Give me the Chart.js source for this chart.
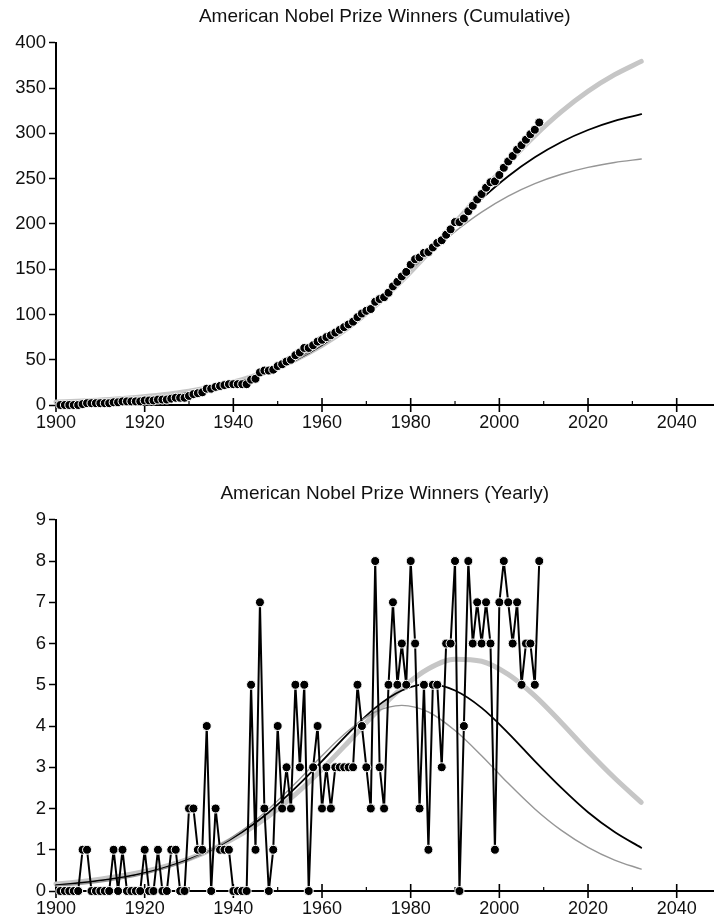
<!DOCTYPE html>
<html>
<head>
<meta charset="utf-8">
<title>American Nobel Prize Winners</title>
<script src="https://cdn.jsdelivr.net/npm/chart.js@4.4.1/dist/chart.umd.min.js"></script>
<style>
  html, body { margin: 0; padding: 0; background: #fff; }
  body { width: 719px; height: 924px; overflow: hidden; position: relative; }
  canvas { position: absolute; left: 0; }
  #cumulative-chart { top: 0; }
  #yearly-chart { top: 462px; }
</style>
</head>
<body>
<canvas id="cumulative-chart" width="719" height="440"></canvas>
<canvas id="yearly-chart" width="719" height="462"></canvas>
<script>
// Observed data, one entry per year
const years = [
  1901, 1902, 1903, 1904, 1905, 1906, 1907, 1908, 1909, 1910,
  1911, 1912, 1913, 1914, 1915, 1916, 1917, 1918, 1919, 1920,
  1921, 1922, 1923, 1924, 1925, 1926, 1927, 1928, 1929, 1930,
  1931, 1932, 1933, 1934, 1935, 1936, 1937, 1938, 1939, 1940,
  1941, 1942, 1943, 1944, 1945, 1946, 1947, 1948, 1949, 1950,
  1951, 1952, 1953, 1954, 1955, 1956, 1957, 1958, 1959, 1960,
  1961, 1962, 1963, 1964, 1965, 1966, 1967, 1968, 1969, 1970,
  1971, 1972, 1973, 1974, 1975, 1976, 1977, 1978, 1979, 1980,
  1981, 1982, 1983, 1984, 1985, 1986, 1987, 1988, 1989, 1990,
  1991, 1992, 1993, 1994, 1995, 1996, 1997, 1998, 1999, 2000,
  2001, 2002, 2003, 2004, 2005, 2006, 2007, 2008, 2009
]

const yearlyWinners = [
  0, 0, 0, 0, 0, 1, 1, 0, 0, 0,
  0, 0, 1, 0, 1, 0, 0, 0, 0, 1,
  0, 0, 1, 0, 0, 1, 1, 0, 0, 2,
  2, 1, 1, 4, 0, 2, 1, 1, 1, 0,
  0, 0, 0, 5, 1, 7, 2, 0, 1, 4,
  2, 3, 2, 5, 3, 5, 0, 3, 4, 2,
  3, 2, 3, 3, 3, 3, 3, 5, 4, 3,
  2, 8, 3, 2, 5, 7, 5, 6, 5, 8,
  6, 2, 5, 1, 5, 5, 3, 6, 6, 8,
  0, 4, 8, 6, 7, 6, 7, 6, 1, 7,
  8, 7, 6, 7, 5, 6, 6, 5, 8
]

const cumulativeWinners = [
  0, 0, 0, 0, 0, 1, 2, 2, 2, 2,
  2, 2, 3, 3, 4, 4, 4, 4, 4, 5,
  5, 5, 6, 6, 6, 7, 8, 8, 8, 10,
  12, 13, 14, 18, 18, 20, 21, 22, 23, 23,
  23, 23, 23, 28, 29, 36, 38, 38, 39, 43,
  45, 48, 50, 55, 58, 63, 63, 66, 70, 72,
  75, 77, 80, 83, 86, 89, 92, 97, 101, 104,
  106, 114, 117, 119, 124, 131, 136, 142, 147, 155,
  161, 163, 168, 169, 174, 179, 182, 188, 194, 202,
  202, 206, 214, 220, 227, 233, 240, 246, 247, 254,
  262, 269, 275, 282, 287, 293, 299, 304, 312
]

// Fitted curves, every six years
const fitYears = [
  1900, 1906, 1912, 1918, 1924, 1930, 1936, 1942, 1948, 1954, 1960, 1966,
  1972, 1978, 1984, 1990, 1996, 2002, 2008, 2014, 2020, 2026, 2032
]

const cumulativeFitHigh = [
  3.2, 4.4, 6.0, 8.3, 11.3, 15.3, 20.8, 28.1, 37.6, 50.1, 65.9, 85.6,
  109.4, 137.1, 168.1, 201.2, 234.9, 267.5, 297.5, 324.0, 346.5, 364.8, 379.5
]
const cumulativeFitMid = [
  2.4, 3.4, 4.8, 6.8, 9.6, 13.5, 18.9, 26.3, 36.3, 49.5, 66.4, 87.3,
  112.2, 140.2, 170.0, 199.8, 227.8, 252.7, 273.6, 290.5, 303.7, 313.7, 321.1
]
const cumulativeFitLow = [
  1.9, 2.7, 4.0, 5.8, 8.4, 12.2, 17.6, 25.2, 35.5, 49.3, 67.0, 88.5,
  113.3, 140.0, 166.7, 191.5, 213.0, 230.7, 244.5, 254.8, 262.4, 267.8, 271.6
]

const yearlyFitHigh = [
  0.17, 0.23, 0.32, 0.43, 0.58, 0.78, 1.05, 1.39, 1.82, 2.34, 2.95, 3.62,
  4.31, 4.92, 5.39, 5.62, 5.57, 5.25, 4.73, 4.08, 3.39, 2.74, 2.15
]
const yearlyFitMid = [
  0.14, 0.20, 0.28, 0.39, 0.55, 0.77, 1.05, 1.43, 1.91, 2.50, 3.15, 3.83,
  4.44, 4.86, 5.02, 4.86, 4.44, 3.83, 3.15, 2.50, 1.91, 1.43, 1.05
]
const yearlyFitLow = [
  0.12, 0.17, 0.25, 0.36, 0.53, 0.75, 1.06, 1.47, 1.99, 2.61, 3.28, 3.89,
  4.34, 4.50, 4.34, 3.89, 3.28, 2.61, 1.99, 1.47, 1.06, 0.75, 0.53
]

// Axis ticks
const yearTicks = [1900, 1910, 1920, 1930, 1940, 1950, 1960, 1970, 1980, 1990, 2000, 2010, 2020, 2030, 2040]
const yearLabels = [1900, 1920, 1940, 1960, 1980, 2000, 2020, 2040]
const cumulativeTicks = [0, 50, 100, 150, 200, 250, 300, 350, 400]
const yearlyTicks = [0, 1, 2, 3, 4, 5, 6, 7, 8, 9]

const FONT = "'Liberation Sans', Arial, sans-serif"
const TEXT_COLOR = '#111'

const FIT_STYLES = {
  high: { color: '#c6c6c6', width: 5 },
  mid: { color: '#000', width: 1.8 },
  low: { color: '#969696', width: 1.4 }
}

function toPoints(xs, ys) {
  return xs.map((x, i) => ({ x: x, y: ys[i] }))
}

function fitDataset(label, ys, style) {
  return {
    label: label,
    data: toPoints(fitYears, ys),
    borderColor: style.color,
    borderWidth: style.width,
    borderCapStyle: 'round',
    pointRadius: 0,
    cubicInterpolationMode: 'monotone',
    fill: false,
    clip: false
  }
}

function winnersDataset(label, ys, showLine) {
  return {
    label: label,
    data: toPoints(years, ys),
    showLine: showLine,
    borderColor: '#000',
    borderWidth: 2,
    borderJoinStyle: 'round',
    tension: 0,
    pointRadius: 4.5,
    pointBackgroundColor: '#000',
    pointBorderColor: '#fff',
    pointBorderWidth: 1,
    clip: false
  }
}

// Year axis ticks cross the axis line: long ones every 20 years, short ones between
const crossTicks = {
  id: 'crossTicks',
  beforeDatasetsDraw(chart) {
    const scale = chart.scales.x
    const ctx = chart.ctx
    ctx.save()
    ctx.strokeStyle = '#000'
    scale.ticks.forEach(tick => {
      const x = scale.getPixelForValue(tick.value)
      const major = yearLabels.includes(tick.value)
      ctx.lineWidth = major ? 1.6 : 1.2
      ctx.beginPath()
      ctx.moveTo(x, scale.top - (major ? 7 : 4))
      ctx.lineTo(x, scale.top + (major ? 7 : 1))
      ctx.stroke()
    })
    ctx.restore()
  }
}

function buildOptions(title, yTicks, titlePadding, xAxisHeight) {
  return {
    responsive: false,
    animation: false,
    events: [],
    layout: { padding: 0 },
    plugins: {
      legend: { display: false },
      tooltip: { enabled: false },
      title: {
        display: true,
        text: title,
        fullSize: false,
        color: TEXT_COLOR,
        font: { family: FONT, size: 19, weight: 'normal' },
        padding: titlePadding
      }
    },
    scales: {
      x: {
        type: 'linear',
        min: 1900,
        max: 2048.3,
        afterBuildTicks: scale => { scale.ticks = yearTicks.map(value => ({ value })) },
        afterFit: scale => { scale.height = xAxisHeight },
        grid: { display: true, drawOnChartArea: false, drawTicks: false },
        border: { display: true, color: '#000', width: 2 },
        ticks: {
          autoSkip: false,
          maxRotation: 0,
          padding: 7,
          color: TEXT_COLOR,
          font: { family: FONT, size: 18 }
          ,
          callback: value => yearLabels.includes(value) ? String(value) : ''
        }
      },
      y: {
        type: 'linear',
        min: 0,
        max: yTicks[yTicks.length - 1],
        afterBuildTicks: scale => { scale.ticks = yTicks.map(value => ({ value })) },
        afterFit: scale => { scale.width = 56 },
        grid: { display: true, drawOnChartArea: false, drawTicks: true, tickLength: 7, tickColor: '#000', tickWidth: 1.5 },
        border: { display: true, color: '#000', width: 2 },
        ticks: {
          padding: 3,
          color: TEXT_COLOR,
          font: { family: FONT, size: 18.5 }
        }
      }
    }
  }
}

new Chart(document.getElementById('cumulative-chart'), {
  type: 'line',
  data: {
    datasets: [
      winnersDataset('Cumulative winners', cumulativeWinners, false),
      fitDataset('Fit (low)', cumulativeFitLow, FIT_STYLES.low),
      fitDataset('Fit (mid)', cumulativeFitMid, FIT_STYLES.mid),
      fitDataset('Fit (high)', cumulativeFitHigh, FIT_STYLES.high)
    ]
  },
  options: buildOptions('American Nobel Prize Winners (Cumulative)', cumulativeTicks, { top: 5, bottom: 15 }, 35),
  plugins: [crossTicks]
})

new Chart(document.getElementById('yearly-chart'), {
  type: 'line',
  data: {
    datasets: [
      winnersDataset('Yearly winners', yearlyWinners, true),
      fitDataset('Fit (low)', yearlyFitLow, FIT_STYLES.low),
      fitDataset('Fit (mid)', yearlyFitMid, FIT_STYLES.mid),
      fitDataset('Fit (high)', yearlyFitHigh, FIT_STYLES.high)
    ]
  },
  options: buildOptions('American Nobel Prize Winners (Yearly)', yearlyTicks, { top: 20, bottom: 15 }, 33),
  plugins: [crossTicks]
})
</script>
</body>
</html>
